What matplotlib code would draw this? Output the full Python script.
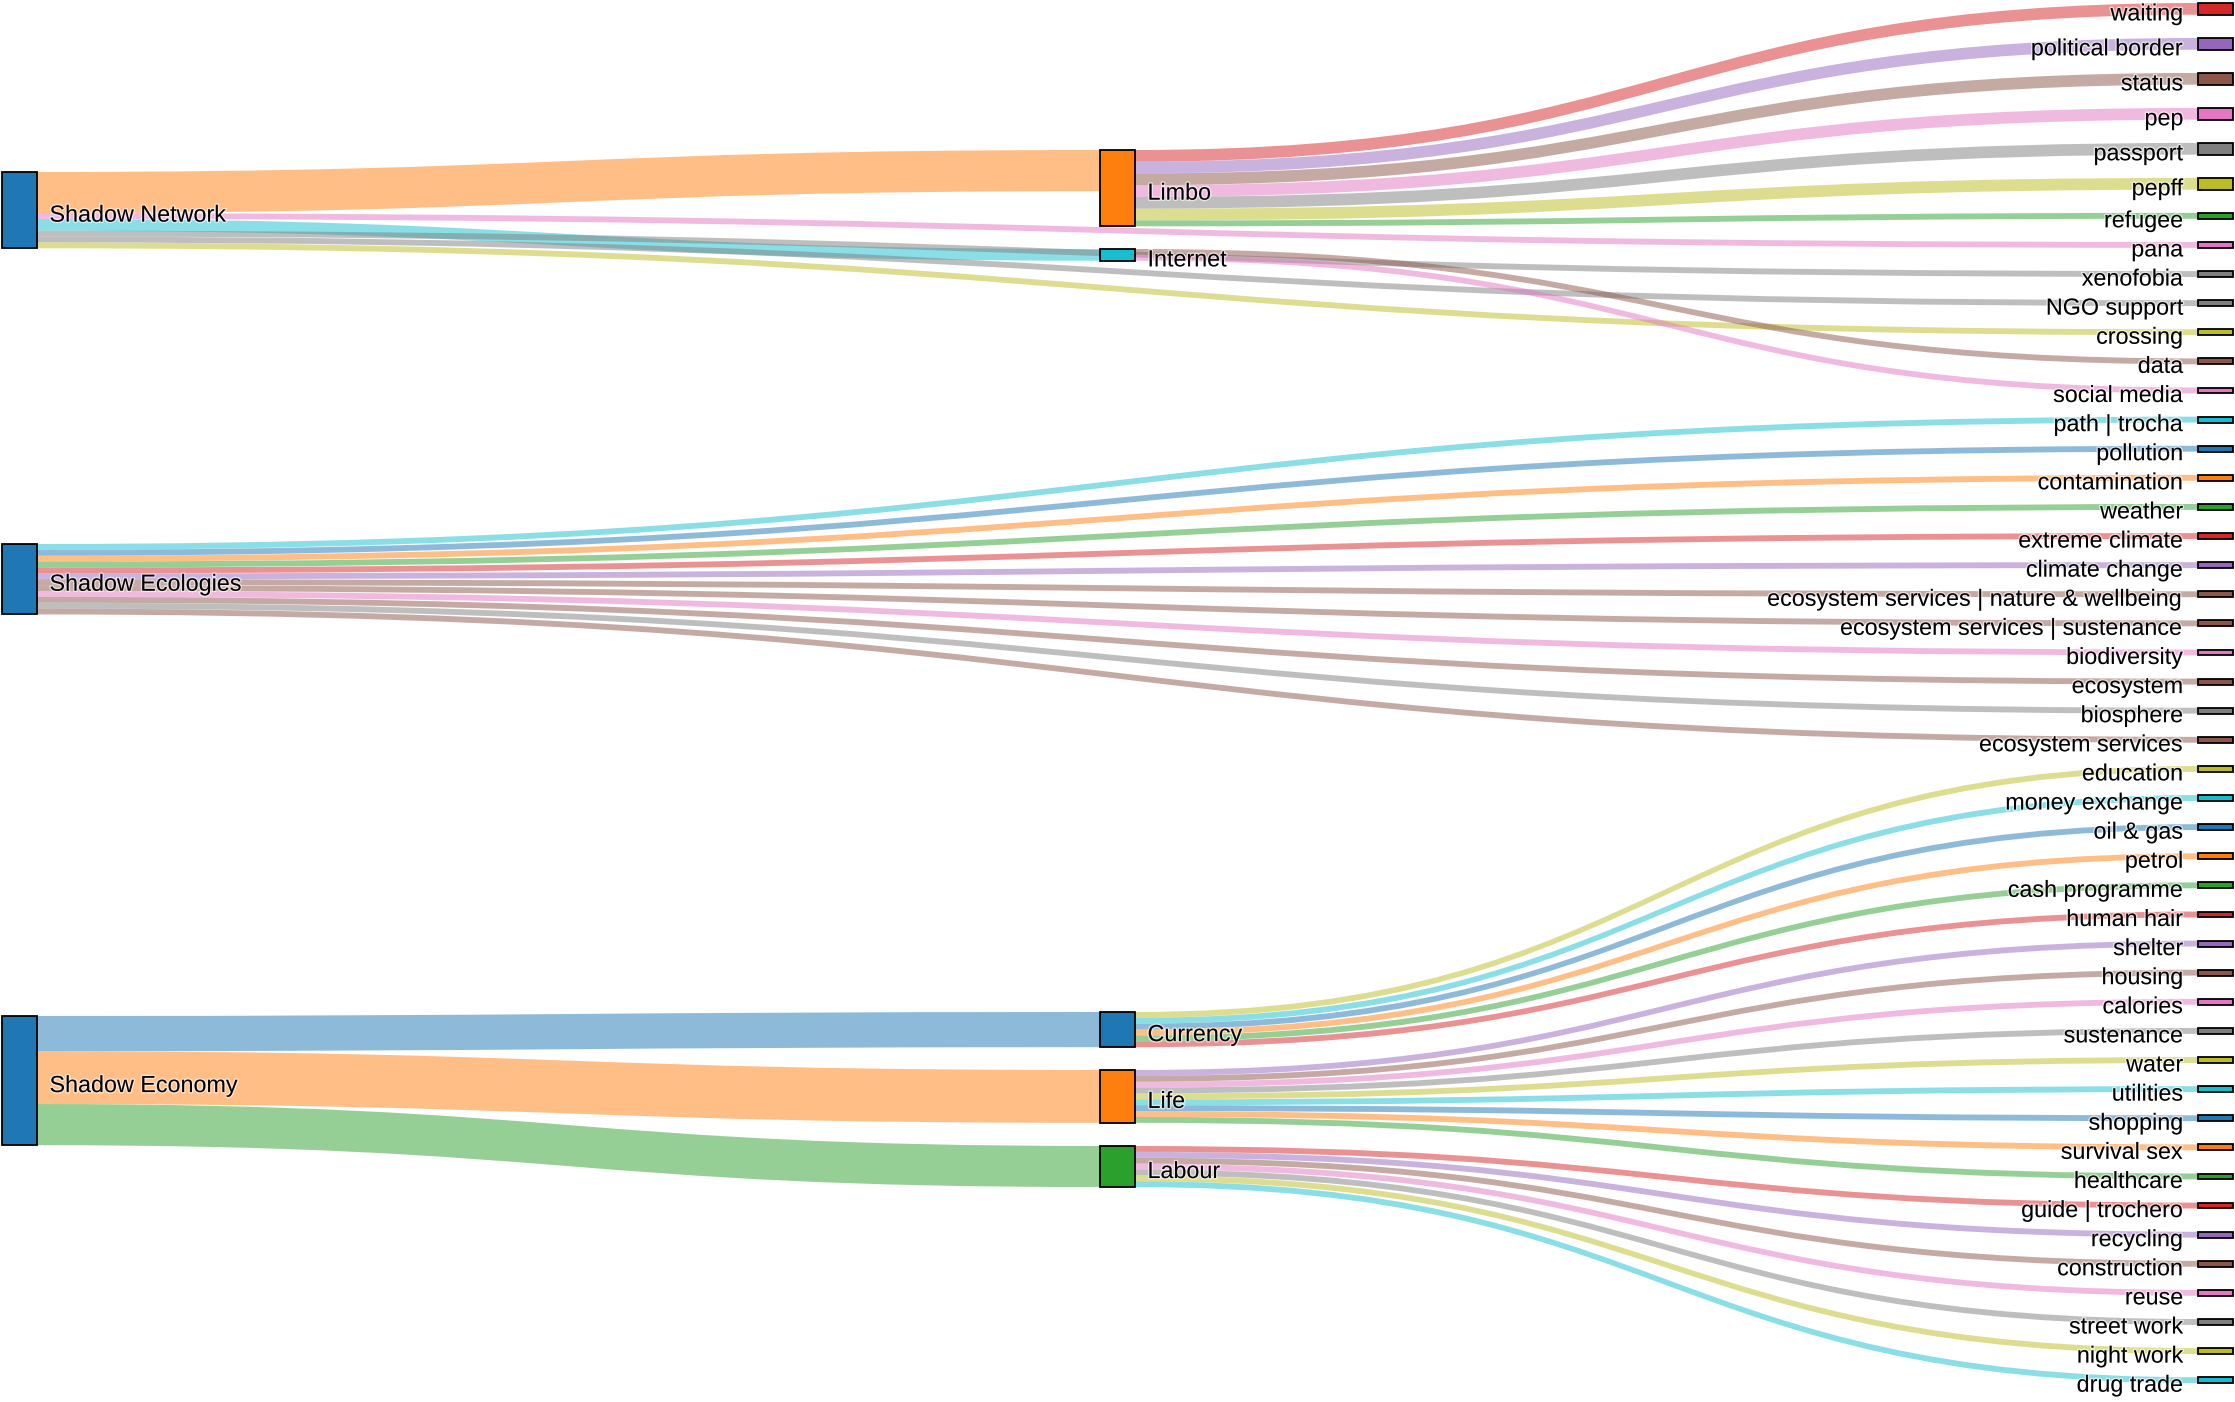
import matplotlib
matplotlib.use("Agg")
from matplotlib import pyplot as plt
from matplotlib.path import Path
from matplotlib.patches import PathPatch, Rectangle
import matplotlib.patheffects as pe

# --- data -------------------------------------------------------------
left_nodes = ["Shadow Network", "Shadow Ecologies", "Shadow Economy"]
mid_nodes = ["Limbo", "Internet", "Currency", "Life", "Labour"]
right_nodes = [
    "waiting", "political border", "status", "pep", "passport", "pepff",
    "refugee", "pana", "xenofobia", "NGO support", "crossing", "data",
    "social media",
    "path | trocha", "pollution", "contamination", "weather",
    "extreme climate", "climate change",
    "ecosystem services | nature & wellbeing",
    "ecosystem services | sustenance", "biodiversity", "ecosystem",
    "biosphere", "ecosystem services",
    "education", "money exchange", "oil & gas", "petrol", "cash programme",
    "human hair", "shelter", "housing", "calories", "sustenance", "water",
    "utilities", "shopping", "survival sex", "healthcare",
    "guide | trochero", "recycling", "construction", "reuse", "street work",
    "night work", "drug trade",
]

sources = (
    ["Shadow Network"] * 6
    + ["Limbo"] * 7
    + ["Internet"] * 2
    + ["Shadow Ecologies"] * 12
    + ["Shadow Economy"] * 3
    + ["Currency"] * 6
    + ["Life"] * 9
    + ["Labour"] * 7
)
targets = (
    ["Limbo", "pana", "Internet", "xenofobia", "NGO support", "crossing"]
    + ["waiting", "political border", "status", "pep", "passport", "pepff", "refugee"]
    + ["data", "social media"]
    + right_nodes[13:25]
    + ["Currency", "Life", "Labour"]
    + right_nodes[25:31]
    + right_nodes[31:40]
    + right_nodes[40:47]
)
values = (
    [7, 1, 2, 1, 1, 1]
    + [2, 2, 2, 2, 2, 2, 1]
    + [1, 1]
    + [1] * 12
    + [6, 9, 7]
    + [1] * 6
    + [1] * 9
    + [1] * 7
)

# --- style / layout ---------------------------------------------------
tab10 = ['#1f77b4', '#ff7f0e', '#2ca02c', '#d62728', '#9467bd',
         '#8c564b', '#e377c2', '#7f7f7f', '#bcbd22', '#17becf']
color_idx = {
    "Shadow Network": 0, "Shadow Ecologies": 0, "Shadow Economy": 0,
    "Limbo": 1, "Internet": 9, "Currency": 0, "Life": 1, "Labour": 2,
}
right_color_idx = [3, 4, 5, 6, 7, 8, 2, 6, 7, 7, 8, 5, 6,
                   9, 0, 1, 2, 3, 4, 5, 5, 6, 5, 7, 5,
                   8, 9, 0, 1, 2, 3, 4, 5, 6, 7, 8, 9, 0, 1, 2,
                   3, 4, 5, 6, 7, 8, 9]
for name, ci in zip(right_nodes, right_color_idx):
    color_idx[name] = ci

W, H = 2235, 1402
unit = 5.87        # px per unit of value
pad = 23.24        # px between stacked nodes
node_w = 35
col_x = {0: 1.5, 1: 1099.5, 2: 2197.5}
# node tops (px) for the left and middle columns, like plotly node.y
node_top = {
    "Shadow Network": 172, "Shadow Ecologies": 544, "Shadow Economy": 1016,
    "Limbo": 150, "Internet": 249, "Currency": 1012, "Life": 1070,
    "Labour": 1146,
}

# node sizes
inflow = {}
outflow = {}
for s, t, v in zip(sources, targets, values):
    outflow[s] = outflow.get(s, 0) + v
    inflow[t] = inflow.get(t, 0) + v
all_nodes = left_nodes + mid_nodes + right_nodes
size = {n: max(inflow.get(n, 0), outflow.get(n, 0)) * unit for n in all_nodes}
column = {}
for n in left_nodes:
    column[n] = 0
for n in mid_nodes:
    column[n] = 1
for n in right_nodes:
    column[n] = 2

y = 3.0
for n in right_nodes:
    node_top[n] = y
    y += size[n] + pad

center = {n: node_top[n] + size[n] / 2 for n in all_nodes}

fig = plt.figure(figsize=(W / 100, H / 100), dpi=100)
ax = fig.add_axes([0, 0, 1, 1])
ax.set_xlim(0, W)
ax.set_ylim(H, 0)
ax.axis("off")

# link offsets: ordered by the other end's position
links = list(zip(sources, targets, values))
src_off = {}
tgt_off = {}
for n in all_nodes:
    outs = sorted([l for l in links if l[0] == n], key=lambda l: center[l[1]])
    off = node_top[n]
    for l in outs:
        src_off[l] = off
        off += l[2] * unit
    ins = sorted([l for l in links if l[1] == n], key=lambda l: center[l[0]])
    off = node_top[n]
    for l in ins:
        tgt_off[l] = off
        off += l[2] * unit

for l in links:
    s, t, v = l
    x0 = col_x[column[s]] + node_w
    x1 = col_x[column[t]]
    xm = (x0 + x1) / 2
    h = v * unit
    y0, y1 = src_off[l], tgt_off[l]
    verts = [(x0, y0), (xm, y0), (xm, y1), (x1, y1),
             (x1, y1 + h), (xm, y1 + h), (xm, y0 + h), (x0, y0 + h), (x0, y0)]
    codes = [Path.MOVETO, Path.CURVE4, Path.CURVE4, Path.CURVE4,
             Path.LINETO, Path.CURVE4, Path.CURVE4, Path.CURVE4, Path.CLOSEPOLY]
    ax.add_patch(PathPatch(Path(verts, codes), facecolor=tab10[color_idx[t]],
                           alpha=0.5, edgecolor="none", lw=0))

halo = [pe.withStroke(linewidth=2, foreground="white", alpha=0.6)]
for n in all_nodes:
    x = col_x[column[n]]
    ax.add_patch(Rectangle((x, node_top[n]), node_w, size[n],
                           facecolor=tab10[color_idx[n]], edgecolor="black",
                           lw=1.3, zorder=3))
    if column[n] < 2:
        ax.text(x + node_w + 13, center[n] + 11.5, n, ha="left", va="baseline",
                fontsize=16.8, family="Liberation Sans", zorder=4,
                path_effects=halo)
    else:
        ax.text(x - 14, center[n] + 11.5, n, ha="right", va="baseline",
                fontsize=16.8, family="Liberation Sans", zorder=4,
                path_effects=halo)

fig.savefig("out.png", dpi=100)
